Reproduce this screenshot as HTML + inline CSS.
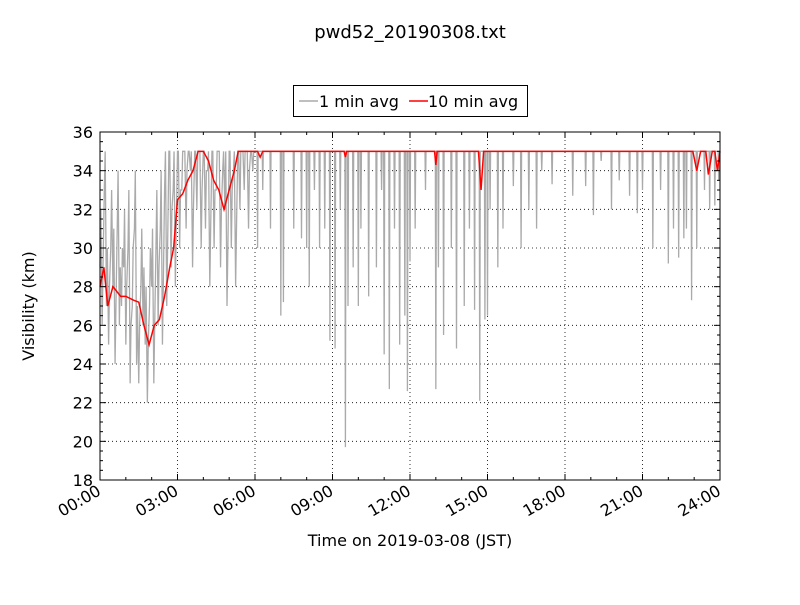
<!DOCTYPE html>
<html><head><meta charset="utf-8"><style>
body{margin:0;background:#fff;font-family:"Liberation Sans","DejaVu Sans",sans-serif}
svg text{font-family:"DejaVu Sans","Liberation Sans",sans-serif}
</style></head><body>
<svg id="c" width="800" height="600" xmlns="http://www.w3.org/2000/svg">
<rect width="800" height="600" fill="#fff"/>
<text x="410" y="38" font-size="18" text-anchor="middle">pwd52_20190308.txt</text>
<g>
<rect x="293.5" y="85.5" width="234" height="31" fill="#fff" stroke="#000"/>
<line x1="299" y1="101" x2="318" y2="101" stroke="#aaa" stroke-width="1.5"/>
<text x="319" y="107" font-size="16">1 min avg</text>
<line x1="409" y1="101" x2="428" y2="101" stroke="red" stroke-width="1.5"/>
<text x="428" y="107" font-size="16">10 min avg</text>
</g>
<text x="410" y="546" font-size="16" text-anchor="middle">Time on 2019-03-08 (JST)</text>
<text transform="translate(34,306) rotate(-90)" font-size="16" text-anchor="middle">Visibility (km)</text>
<g id="plot"></g>
</svg>
<script>
const earlyGray=[29,26,33,27,25,30,28,24,31,26,27,29,25,30,23,27,31,24,23,28,26,25,22,27,28,23,30,26,31,25,33,27,35,29,33,28,35,30,33,35,31,35,34,29,35,32,35,30,35,31,34,28,35,30,33,35,29,34,32,27,35,30,34,28,35,32,35,33,35,31,35,34];
const dipHours=[6.1,6.3,6.6,7.0,7.1,7.5,7.8,8.0,8.1,8.3,8.5,8.7,8.9,9.1,9.3,9.5,9.6,9.8,10.0,10.1,10.4,10.7,10.9,11.0,11.2,11.4,11.6,11.8,11.9,12.0,12.2,12.6,13.0,13.1,13.3,13.6,13.8,14.1,14.3,14.5,14.7,14.9,15.0,15.1,15.4,15.6,16.0,16.3,16.6,16.9,17.1,17.5,18.3,18.8,19.1,19.4,19.8,20.1,20.5,20.8,21.0,21.4,21.7,22.0,22.2,22.4,22.6,22.7,22.9,23.1,23.4,23.6,23.8,23.95];
const dipValues=[30,33,31,26.5,27.2,31,30.5,30,28,33,30,31,25.2,24.8,32,19.7,27,29,27,31,27.5,29,33,24.5,22.7,31,25,26.5,22.6,29.3,31,33,22.7,29,25.5,30,24.8,27,31,26.8,22.1,26.3,26.5,32,29,31,33.2,30,32,31,34,33.3,32.7,33.2,31.7,34.5,32,33.5,32.7,31.8,33,30,33,29.2,31,29.5,30.5,31,27.3,30,33,32,32.2,33.5];
const redHours=[0,0.15,0.3,0.5,0.8,1.0,1.3,1.5,1.7,1.9,2.1,2.3,2.5,2.7,2.85,3.0,3.2,3.4,3.6,3.8,4.0,4.2,4.4,4.6,4.8,5.0,5.2,5.35,6.1,6.2,6.3,9.45,9.5,9.55,12.95,13.0,13.05,14.65,14.75,14.85,22.95,23.1,23.25,23.45,23.55,23.7,23.8,23.9,24];
const redValues=[28,29,27,28,27.5,27.5,27.3,27.2,26,25,26,26.3,27.5,29,30,32.5,32.8,33.5,34,35,35,34.5,33.5,33,32,33,34,35,35,34.7,35,35,34.7,35,35,34.3,35,35,33,35,35,34,35,35,33.8,35,35,34,35];
const yTicks=[18,20,22,24,26,28,30,32,34,36];
const xTickLabels=["00:00","03:00","06:00","09:00","12:00","15:00","18:00","21:00","24:00"];
const X0=100,X1=720,Y0=480,Y1=132;
const xs=h=>X0+(X1-X0)*h/24, ys=v=>Y0-(Y0-Y1)*(v-18)/18;
const NS="http://www.w3.org/2000/svg",g=document.getElementById('plot');
function mk(t,a){const e=document.createElementNS(NS,t);for(const k in a)e.setAttribute(k,a[k]);g.appendChild(e);return e;}
// grid
for(let i=1;i<8;i++){const l=mk('line',{x1:xs(i*3),x2:xs(i*3),y1:Y1,y2:Y0,stroke:'#000','stroke-dasharray':'1,3','stroke-width':0.8});

}
yTicks.slice(1,-1).forEach(v=>{const l=mk('line',{x1:X0,x2:X1,y1:ys(v),y2:ys(v),stroke:'#000','stroke-dasharray':'1,3','stroke-width':0.8});

});
// gray series
let pts=[];
earlyGray.forEach((v,i)=>{pts.push([i*5/60,v]);pts.push([i*5/60+2/60,Math.min(35,v+3)]);});
pts.push([6.0,35]);
dipHours.forEach((h,i)=>{pts.push([h-0.02,35]);pts.push([h,dipValues[i]]);pts.push([h+0.02,35]);});
pts.push([24,35]);
const gp=mk('polyline',{points:pts.map(p=>xs(p[0])+','+ys(p[1])).join(' '),fill:'none',stroke:'#aaa','stroke-width':1.3});


const rp=mk('polyline',{points:redHours.map((h,i)=>xs(h)+','+ys(redValues[i])).join(' '),fill:'none',stroke:'red','stroke-width':1.5});


// axes frame
const fr=mk('rect',{x:X0,y:Y1,width:X1-X0,height:Y0-Y1,fill:'none',stroke:'#000','stroke-width':1});


// y ticks
yTicks.forEach(v=>{const y=ys(v);
mk('line',{x1:X0,x2:X0+6,y1:y,y2:y,stroke:'#000'});mk('line',{x1:X1,x2:X1-6,y1:y,y2:y,stroke:'#000'});
const t=mk('text',{x:X0-7,y:y+6,'font-size':16,'text-anchor':'end'});t.textContent=v;

});
for(let v=18;v<=36;v+=0.5){if(v%2===0)continue;const y=ys(v);mk('line',{x1:X0,x2:X0+3,y1:y,y2:y,stroke:'#000'});mk('line',{x1:X1,x2:X1-3,y1:y,y2:y,stroke:'#000'});}
// x ticks
for(let h=0;h<=24;h++){const x=xs(h),L=h%3===0?6:3;mk('line',{x1:x,x2:x,y1:Y0,y2:Y0-L,stroke:'#000'});mk('line',{x1:x,x2:x,y1:Y1,y2:Y1+L,stroke:'#000'});}
xTickLabels.forEach((s,i)=>{const x=xs(i*3);const t=mk('text',{x:x+2,y:Y0+14,'font-size':16,'text-anchor':'end',transform:`rotate(-30 ${x+2} ${Y0+14})`});t.textContent=s;

});
</script>
</body></html>
